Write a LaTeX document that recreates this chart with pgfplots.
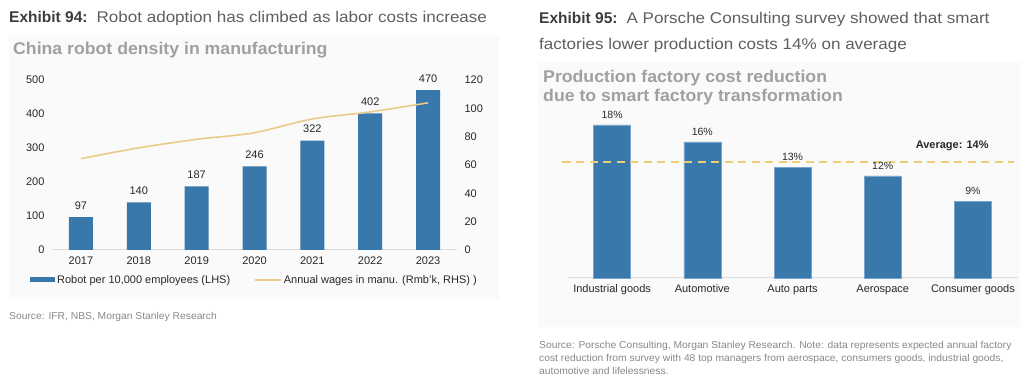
\documentclass[border=0pt]{standalone}
\usepackage{pgfplots}
\pgfplotsset{compat=1.18}
\usepackage{fontspec}
\setmainfont{Liberation Sans}
\newfontfamily\headfont[FakeStretch=1.10]{Liberation Sans}
\newfontfamily\titlefont[FakeStretch=1.04]{Liberation Sans}
\newfontfamily\srcfont[FakeStretch=1.03]{Liberation Sans}
\definecolor{barblue}{RGB}{57,120,170}
\definecolor{baredge}{RGB}{120,165,205}
\definecolor{wagegold}{RGB}{232,204,135}
\definecolor{avggold}{RGB}{238,204,120}
\definecolor{bgc}{RGB}{250,250,250}
\definecolor{textdark}{RGB}{40,40,40}
\definecolor{headgray}{RGB}{95,95,95}
\definecolor{titlegray}{RGB}{160,160,160}
\definecolor{srcgray}{RGB}{135,135,135}
\definecolor{axisgray}{RGB}{220,220,220}
\newcommand{\fs}[1]{\fontsize{#1}{#1}\selectfont}
\begin{document}
\begin{tikzpicture}[x=1pt,y=1pt]
\path[use as bounding box] (0,0) rectangle (1024,385);
\fill[bgc] (9,86) rectangle (499,350);
\fill[bgc] (538,58) rectangle (1020,323);
% headers
\node[anchor=base west, inner sep=0, text=headgray] at (9,362) {\fs{15.5}\textbf{\color{textdark!90}Exhibit 94:}\hspace{9pt}{\headfont Robot adoption has climbed as labor costs increase}};
\node[anchor=base west, inner sep=0, text=titlegray] at (13,330) {\fs{17}\titlefont\bfseries China robot density in manufacturing};
\node[anchor=base west, inner sep=0, text=srcgray] at (9,65) {\fs{10}\srcfont Source: IFR, NBS, Morgan Stanley Research};
\node[anchor=base west, inner sep=0, text=headgray] at (539,361) {\fs{15.5}\textbf{\color{textdark!90}Exhibit 95:}\hspace{9pt}{\headfont A Porsche Consulting survey showed that smart}};
\node[anchor=base west, inner sep=0, text=headgray] at (539,335) {\fs{15.5}\headfont factories lower production costs 14\% on average};
\node[anchor=base west, inner sep=0, text=titlegray] at (543,302) {\fs{17}\titlefont\bfseries Production factory cost reduction};
\node[anchor=base west, inner sep=0, text=titlegray] at (543,283) {\fs{17}\titlefont\bfseries due to smart factory transformation};
\node[anchor=base west, inner sep=0, text=srcgray] at (539,36) {\fs{10}\srcfont Source: Porsche Consulting, Morgan Stanley Research. Note: data represents expected annual factory};
\node[anchor=base west, inner sep=0, text=srcgray] at (539,23) {\fs{10}\srcfont cost reduction from survey with 48 top managers from aerospace, consumers goods, industrial goods,};
\node[anchor=base west, inner sep=0, text=srcgray] at (539,10) {\fs{10}\srcfont automotive and lifelessness.};

% left chart, LHS
\begin{axis}[at={(52pt,135pt)}, anchor=south west, scale only axis,
  width=405pt, height=170pt,
  xmin=2016.5, xmax=2023.5, ymin=0, ymax=500,
  axis x line*=bottom, axis y line*=left,
  y axis line style={draw=none},
  x axis line style={axisgray, line width=1pt},
  major tick length=0pt,
  /pgf/number format/assume math mode=true,
  xtick={2017,2018,2019,2020,2021,2022,2023},
  xticklabels={2017,2018,2019,2020,2021,2022,2023},
  ytick={0,100,200,300,400,500},
  ticklabel style={font=\fs{11}, text=textdark},
  xticklabel style={yshift=-3pt},
  yticklabel style={xshift=-4pt},
  clip=false,
  legend columns=2,
  legend style={at={(0.5,-0.176)}, anchor=center, draw=none, fill=none,
    font=\fs{11}, text=textdark, inner sep=0pt,
    /tikz/every even column/.append style={column sep=22pt}},
  legend cell align=left,
]
\addplot[ybar, bar width=24pt, fill=barblue, draw=none,
  nodes near coords,
  nodes near coords style={font=\fs{11}, text=textdark, yshift=4pt},
  legend image code/.code={\fill[barblue] (0pt,-2.5pt) rectangle (25pt,2.5pt);}]
  coordinates {(2017,97) (2018,140) (2019,187) (2020,246) (2021,322) (2022,402) (2023,470)};
\addlegendentry{Robot per 10,000 employees (LHS)}
\addlegendimage{legend image code/.code={\draw[wagegold, line width=1.6pt] (0pt,0pt) -- (26pt,0pt);}}
\addlegendentry{Annual wages in manu. (Rmb'k, RHS) )}
\end{axis}

% left chart, RHS
\begin{axis}[at={(52pt,135pt)}, anchor=south west, scale only axis,
  width=405pt, height=170pt,
  xmin=2016.5, xmax=2023.5, ymin=0, ymax=120,
  axis x line=none, axis y line*=right,
  y axis line style={draw=none},
  major tick length=0pt,
  /pgf/number format/assume math mode=true,
  ytick={0,20,40,60,80,100,120},
  ticklabel style={font=\fs{11}, text=textdark},
  yticklabel style={xshift=4pt},
  clip=false,
]
\addplot[wagegold, line width=1.6pt, smooth, tension=0.5]
  coordinates {(2017,64.5) (2018,72.1) (2019,78.1) (2020,82.8) (2021,92.5) (2022,97.5) (2023,103.9)};
\end{axis}

% right chart
\begin{axis}[at={(567pt,107pt)}, anchor=south west, scale only axis,
  width=451pt, height=170pt,
  xmin=-0.5, xmax=4.5, ymin=0, ymax=20,
  axis x line*=bottom, axis y line=none,
  x axis line style={axisgray, line width=1pt},
  major tick length=0pt,
  /pgf/number format/assume math mode=true,
  xtick={0,1,2,3,4},
  xticklabels={Industrial goods,Automotive,Auto parts,Aerospace,Consumer goods},
  ticklabel style={font=\fs{11}, text=textdark},
  xticklabel style={yshift=-3pt},
  clip=false,
]
\addplot[ybar, bar width=37pt, fill=barblue, draw=baredge, line width=0.6pt,
  nodes near coords={\pgfmathprintnumber{\pgfplotspointmeta}\%},
  nodes near coords style={font=\fs{10.5}, text=textdark, yshift=3pt}]
  coordinates {(0,18) (1,16) (2,13) (3,12) (4,9)};
\addplot[avggold, line width=2pt, dash pattern=on 8pt off 5.5pt]
  coordinates {(-0.55,13.6) (4.45,13.6)};
\node[font=\fs{11}\bfseries, text=textdark] at (axis cs:3.77,15.5) {Average: 14\%};
\end{axis}
\end{tikzpicture}
\end{document}
